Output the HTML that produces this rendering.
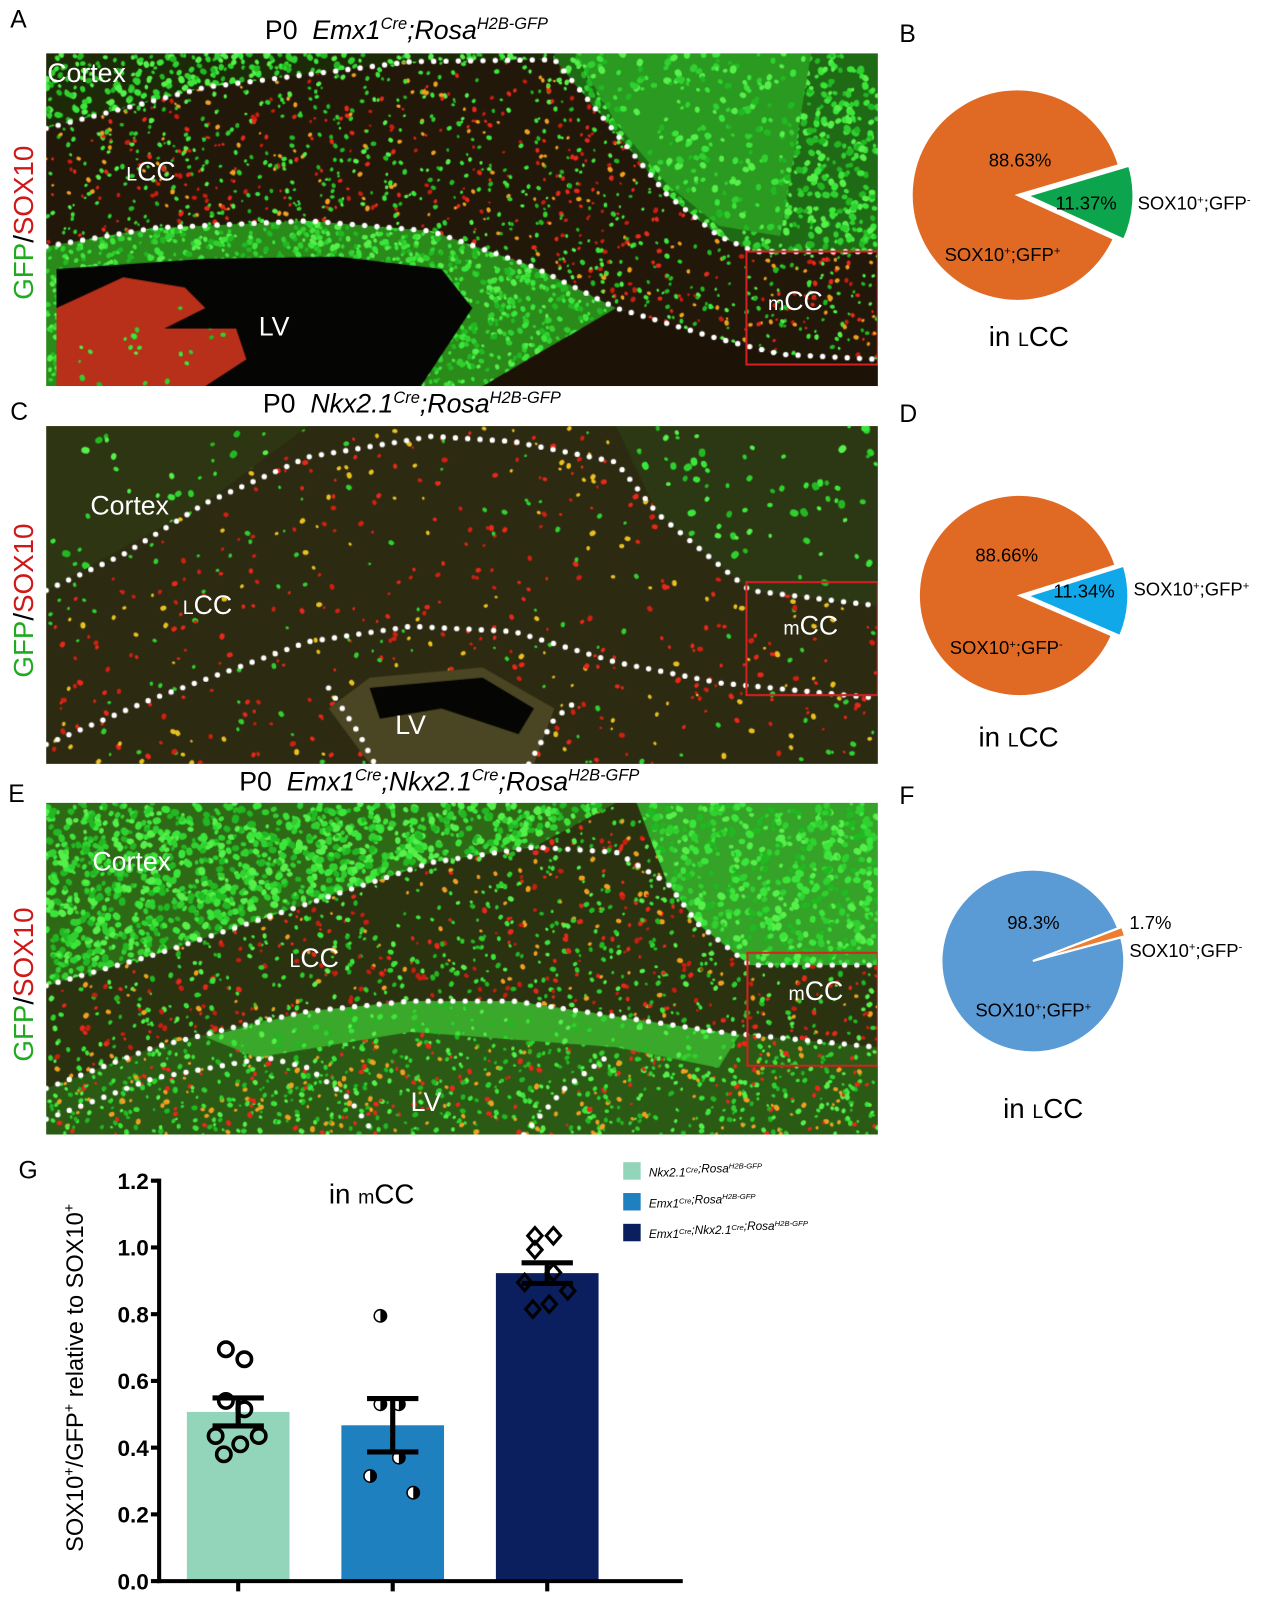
<!DOCTYPE html>
<html><head><meta charset="utf-8">
<style>
html,body{margin:0;padding:0;background:#fff;overflow:hidden;}
body{width:1269px;height:1610px;position:relative;font-family:"Liberation Sans",sans-serif;}
#wrap{position:absolute;left:0;top:0;width:1236px;height:1568px;transform:scale(1.0267);transform-origin:0 0;}
.abs{position:absolute;white-space:nowrap;}
.plab{font-size:24px;color:#000;}
.title{font-size:26px;color:#000;}
.title i{font-style:italic;}
.title sup{font-size:16px;}
.side{font-size:27px;transform:rotate(-90deg);transform-origin:0 0;}
.wl{color:#fff;font-size:26px;}
.wl small{font-size:19px;}
canvas{position:absolute;}
.inl{font-size:27px;color:#000;}
.inl small{font-size:19px;}
</style></head><body>
<div id="wrap">

<div class="abs plab" style="left:10px;top:6px">A</div>
<div class="abs plab" style="left:10px;top:388px">C</div>
<div class="abs plab" style="left:8px;top:760px">E</div>
<div class="abs plab" style="left:876px;top:20px">B</div>
<div class="abs plab" style="left:876px;top:390px">D</div>
<div class="abs plab" style="left:876px;top:762px">F</div>
<div class="abs plab" style="left:18px;top:1127px">G</div>

<div class="abs title" style="left:258px;top:14px">P0&nbsp; <i>Emx1<sup>Cre</sup>;Rosa<sup>H2B-GFP</sup></i></div>
<div class="abs title" style="left:256px;top:378px">P0&nbsp; <i>Nkx2.1<sup>Cre</sup>;Rosa<sup>H2B-GFP</sup></i></div>
<div class="abs title" style="left:233px;top:746px">P0&nbsp; <i>Emx1<sup>Cre</sup>;Nkx2.1<sup>Cre</sup>;Rosa<sup>H2B-GFP</sup></i></div>

<div class="abs side" style="left:8px;top:292px"><span style="color:#1faa1f">GFP</span>/<span style="color:#d01818">SOX10</span></div>
<div class="abs side" style="left:8px;top:660px"><span style="color:#1faa1f">GFP</span>/<span style="color:#d01818">SOX10</span></div>
<div class="abs side" style="left:8px;top:1034px"><span style="color:#1faa1f">GFP</span>/<span style="color:#d01818">SOX10</span></div>

<canvas id="cA" width="810" height="324" style="left:45px;top:52px"></canvas>
<canvas id="cC" width="810" height="329" style="left:45px;top:415px"></canvas>
<canvas id="cE" width="810" height="323" style="left:45px;top:782px"></canvas>

<div class="abs wl" style="left:46px;top:56px">Cortex</div>
<div class="abs wl" style="left:123px;top:152px"><small>L</small>CC</div>
<div class="abs wl" style="left:252px;top:303px">LV</div>
<div class="abs wl" style="left:748px;top:278px"><small>m</small>CC</div>
<div class="abs wl" style="left:88px;top:477px">Cortex</div>
<div class="abs wl" style="left:178px;top:574px"><small>L</small>CC</div>
<div class="abs wl" style="left:385px;top:691px">LV</div>
<div class="abs wl" style="left:763px;top:594px"><small>m</small>CC</div>
<div class="abs wl" style="left:90px;top:824px">Cortex</div>
<div class="abs wl" style="left:282px;top:918px"><small>L</small>CC</div>
<div class="abs wl" style="left:400px;top:1058px">LV</div>
<div class="abs wl" style="left:768px;top:950px"><small>m</small>CC</div>

<svg class="abs" style="left:0;top:0" width="1236" height="1568" id="pies"></svg>

<div class="abs inl" style="left:963px;top:313px">in <small>L</small>CC</div>
<div class="abs inl" style="left:953px;top:703px">in <small>L</small>CC</div>
<div class="abs inl" style="left:977px;top:1065px">in <small>L</small>CC</div>

<svg class="abs" style="left:0;top:1120px" width="900" height="448" id="bar"></svg>
</div>

<script>
// ---------- Bar chart data ----------
const groups = ['Nkx2.1Cre;RosaH2B-GFP','Emx1Cre;RosaH2B-GFP','Emx1Cre;Nkx2.1Cre;RosaH2B-GFP'];
const means = [0.507, 0.467, 0.923];
const sems = [0.042, 0.080, 0.031];
const pts1 = [0.695, 0.665, 0.54, 0.515, 0.435, 0.435, 0.41, 0.38];
const pts2 = [0.795, 0.53, 0.53, 0.37, 0.315, 0.265];
const pts3 = [1.035, 1.035, 0.993, 0.925, 0.895, 0.87, 0.83, 0.815];
const yTicks = [0.0, 0.2, 0.4, 0.6, 0.8, 1.0, 1.2];
const barColors = ['#92d5bb','#1f80bf','#0b1f5e'];

// ---------- Pie data ----------
const pieB = [88.63, 11.37];
const pieD = [88.66, 11.34];
const pieF = [98.3, 1.7];

const NS='http://www.w3.org/2000/svg';
function mk(parent,tag,attrs){const e=document.createElementNS(NS,tag);for(const k in attrs)e.setAttribute(k,attrs[k]);parent.appendChild(e);return e;}

// ----- bar chart -----
(function(){
  const svg=document.getElementById('bar');
  const x0=155, yBase=420, yTop=30;
  const y=v=>yBase-(v/1.2)*(yBase-yTop);
  const xc=i=>232+i*150.5;
  const bw=100;
  let t=mk(svg,'text',{x:362,y:52,'font-size':27,'font-family':'Liberation Sans, sans-serif','text-anchor':'middle'});
  
  
  t.innerHTML='in <tspan font-size="19">m</tspan>CC';
  means.forEach((m,i)=>{
    const r=mk(svg,'rect',{x:xc(i)-bw/2,y:y(m),width:bw,height:yBase-y(m),fill:barColors[i]});
    
    
  });
  const allPts=[pts1,pts2,pts3];
  const jit=[-12,6,-12,6,-22,20,2,-14];
  allPts.forEach((arr,g)=>{
    arr.forEach((v,k)=>{
      const dx=jit[k%jit.length];
      const cx=xc(g)+dx, cy=y(v);
      let el;
      if(g===0){el=mk(svg,'circle',{cx,cy,r:7,fill:'none',stroke:'#000','stroke-width':3.5});}
      else if(g===1){
        el=mk(svg,'g',{});
        mk(el,'circle',{cx,cy,r:6,fill:'#fff',stroke:'#000','stroke-width':1.5});
        mk(el,'path',{d:`M${cx},${cy-6} A6,6 0 0 1 ${cx},${cy+6} Z`,fill:'#000'});
      } else {
        el=mk(svg,'path',{d:`M${cx},${cy-8} L${cx+7},${cy} L${cx},${cy+8} L${cx-7},${cy} Z`,fill:'none',stroke:'#000','stroke-width':3});
      }
      
      
    });
  });
  means.forEach((m,i)=>{
    const g=mk(svg,'g',{stroke:'#000','stroke-width':5});
    
    
    mk(g,'line',{x1:xc(i),x2:xc(i),y1:y(m+sems[i]),y2:y(m-sems[i])});
    mk(g,'line',{x1:xc(i)-25,x2:xc(i)+25,y1:y(m+sems[i]),y2:y(m+sems[i])});
    mk(g,'line',{x1:xc(i)-25,x2:xc(i)+25,y1:y(m-sems[i]),y2:y(m-sems[i])});
  });
  const ax=mk(svg,'g',{stroke:'#000','stroke-width':4});
  
  
  mk(ax,'line',{x1:x0,x2:x0,y1:yTop-2,y2:yBase+2});
  mk(ax,'line',{x1:x0-2,x2:665,y1:yBase,y2:yBase});
  yTicks.forEach(v=>{
    mk(ax,'line',{x1:x0-8,x2:x0,y1:y(v),y2:y(v)});
    const tl=mk(svg,'text',{x:x0-10,y:y(v)+8,'font-size':22,'font-weight':'bold','font-family':'Liberation Sans, sans-serif','text-anchor':'end'});
    
    
    tl.textContent=v.toFixed(1);
  });
  means.forEach((m,i)=>{mk(ax,'line',{x1:xc(i),x2:xc(i),y1:yBase,y2:yBase+10});});
  const yt=mk(svg,'text',{transform:'translate(81,222) rotate(-90)','font-size':23,'font-family':'Liberation Sans, sans-serif','text-anchor':'middle'});
  
  
  yt.innerHTML='SOX10<tspan dy="-9" font-size="14">+</tspan><tspan dy="9">/GFP</tspan><tspan dy="-9" font-size="14">+</tspan><tspan dy="9"> relative to SOX10</tspan><tspan dy="-9" font-size="14">+</tspan>';
  const legTxt=[['Nkx2.1','Cre',';Rosa','H2B-GFP'],['Emx1','Cre',';Rosa','H2B-GFP'],['Emx1','Cre',';Nkx2.1','Cre',';Rosa','H2B-GFP']];
  groups.forEach((gname,i)=>{
    const lg=mk(svg,'g',{});
    
    
    mk(lg,'rect',{x:607,y:12+i*30,width:17,height:17,fill:barColors[i]});
    const tx=mk(lg,'text',{x:632,y:26+i*30,'font-size':11.5,'font-style':'italic','font-family':'Liberation Sans, sans-serif'});
    let h='';legTxt[i].forEach((p,j)=>{h+= (j%2)?`<tspan dy="-4" font-size="7.5">${p}</tspan><tspan dy="4"></tspan>`:p;});
    tx.innerHTML=h;
  });
})();

// ----- pies -----
(function(){
  const svg=document.getElementById('pies');
  function pie(cx,cy,r,vals,cols,startDeg,explode,name){
    const g=mk(svg,'g',{});
    
    
    const tot=vals.reduce((a,b)=>a+b,0);
    const smallA=vals[1]/tot*360;
    const a0=startDeg-smallA/2, a1=startDeg+smallA/2;
    const rad=d=>d*Math.PI/180;
    const arc=(ox,oy,s,e,col,nm)=>{
      const large=(e-s)>180?1:0;
      const p=mk(g,'path',{d:`M${ox},${oy} L${ox+r*Math.cos(rad(s))},${oy+r*Math.sin(rad(s))} A${r},${r} 0 ${large} 1 ${ox+r*Math.cos(rad(e))},${oy+r*Math.sin(rad(e))} Z`,fill:col,stroke:'#fff','stroke-width':2});
      
      
    };
    arc(cx,cy,a1,a0+360,cols[0],'slice-major');
    const ex=explode*Math.cos(rad(startDeg)), ey=explode*Math.sin(rad(startDeg));
    arc(cx+ex,cy+ey,a0,a1,cols[1],'slice-minor');
  }
  pie(991,190,103,pieB,['#e06a24','#0da44e'],4,10,'pie-b');
  pie(993,580,98,pieD,['#e06a24','#10a8e8'],3,8,'pie-d');
  pie(1006,936,89,pieF,['#5b9bd5','#ed7d31'],-18,4,'pie-f');
  const T=(x,y,s,txt,nm,fs)=>{const t=mk(svg,'text',{x,y,'font-size':fs||18,'font-family':'Liberation Sans, sans-serif'});t.innerHTML=txt;return t;};
  const sp='<tspan dy="-6" font-size="11">+</tspan><tspan dy="6">';
  const sm='<tspan dy="-6" font-size="11">-</tspan><tspan dy="6">';
  T(963,162,0,'88.63%','pie-b-major-pct');
  T(1028,204,0,'11.37%','pie-b-minor-pct');
  T(1108,204,0,'SOX10'+sp+';GFP</tspan>'+sm+'</tspan>','pie-b-minor-label');
  T(920,254,0,'SOX10'+sp+';GFP</tspan>'+sp+'</tspan>','pie-b-major-label');
  T(950,547,0,'88.66%','pie-d-major-pct');
  T(1026,582,0,'11.34%','pie-d-minor-pct');
  T(1104,580,0,'SOX10'+sp+';GFP</tspan>'+sp+'</tspan>','pie-d-minor-label');
  T(925,637,0,'SOX10'+sp+';GFP</tspan>'+sm+'</tspan>','pie-d-major-label');
  T(981,905,0,'98.3%','pie-f-major-pct');
  T(1100,905,0,'1.7%','pie-f-minor-pct');
  T(1100,932,0,'SOX10'+sp+';GFP</tspan>'+sm+'</tspan>','pie-f-minor-label');
  T(950,990,0,'SOX10'+sp+';GFP</tspan>'+sp+'</tspan>','pie-f-major-label');
})();

// ----- micrographs (texture) -----
function prng(seed){return function(){seed|=0;seed=seed+0x6D2B79F5|0;let t=Math.imul(seed^seed>>>15,1|seed);t=t+Math.imul(t^t>>>7,61|t)^t;return((t^t>>>14)>>>0)/4294967296;};}
function poly(ctx,pts){ctx.beginPath();ctx.moveTo(pts[0][0],pts[0][1]);for(let i=1;i<pts.length;i++)ctx.lineTo(pts[i][0],pts[i][1]);ctx.closePath();}
function region(ctx,pts,bg,n,cols,sz,rnd,w,h){
  ctx.save();poly(ctx,pts);ctx.clip();
  if(bg){ctx.fillStyle=bg;ctx.fillRect(0,0,w,h);}
  for(let i=0;i<n;i++){const x=rnd()*w,y=rnd()*h;ctx.fillStyle=cols[Math.floor(rnd()*cols.length)];const s=sz*(0.6+rnd()*0.7);ctx.beginPath();ctx.ellipse(x,y,s,s*0.8,rnd()*3,0,7);ctx.fill();}
  ctx.restore();
}
function dotted(ctx,pts,ox,oy){
  ctx.fillStyle='#fff';
  let carry=0;
  for(let i=0;i<pts.length-1;i++){
    const [x1,y1]=pts[i],[x2,y2]=pts[i+1];const L=Math.hypot(x2-x1,y2-y1);
    let d=carry;while(d<L){const t=d/L;ctx.beginPath();ctx.arc(x1+(x2-x1)*t-ox,y1+(y2-y1)*t-oy,2.6,0,7);ctx.fill();d+=12;}
    carry=d-L;
  }
}
function box(ctx,x1,y1,x2,y2,ox,oy){ctx.strokeStyle='#d42020';ctx.lineWidth=2;ctx.strokeRect(x1-ox,y1-oy,x2-x1,y2-y1);}
function shift(pts,ox,oy){return pts.map(p=>[p[0]-ox,p[1]-oy]);}
const G=['#3be63a','#2fd02f','#55f04a','#22b822'], R=['#e8281a','#c81e10','#f0a020'];

(function(){
  const c=document.getElementById('cA'),ctx=c.getContext('2d'),w=810,h=324,ox=45,oy=52,r=prng(11);
  ctx.fillStyle='#1c1206';ctx.fillRect(0,0,w,h);
  const top=[[45,125],[200,85],[400,60],[540,58],[600,130],[650,190],[700,230],[735,245],[855,245]];
  const low=[[45,240],[150,222],[300,215],[420,225],[520,260],[600,300],[700,330],[760,345],[855,350]];
  region(ctx,shift([[45,52],...top,[855,52]],ox,oy),'#1d2a08',5000,G,3,r,w,h);
  region(ctx,shift([[540,52],[540,58],[600,130],[650,190],[700,230],[735,245],[855,245],[855,52]],ox,oy),'#1f6a14',4500,G,3.2,r,w,h);
  region(ctx,shift([[560,52],[600,120],[650,180],[700,220],[760,230],[790,52]],ox,oy),'#2a9a20',2000,G,3.2,r,w,h);
  region(ctx,shift([...top,...low.slice().reverse()],ox,oy),'#22180a',2500,G.concat(R),2.2,r,w,h);
  region(ctx,shift([[45,240],[150,222],[300,215],[420,225],[520,260],[600,300],[470,376],[45,376]],ox,oy),'#2a8a1a',6000,G,2.8,r,w,h);
  region(ctx,shift([[55,262],[200,252],[330,250],[430,262],[460,300],[410,376],[55,376]],ox,oy),'#050503',0,G,2,r,w,h);
  region(ctx,shift([[55,300],[120,270],[180,280],[200,300],[160,320],[230,320],[240,350],[200,376],[55,376]],ox,oy),'#b8301a',350,G,2.5,r,w,h);
  dotted(ctx,top,ox,oy);dotted(ctx,low,ox,oy);
  box(ctx,727,245,855,355,ox,oy);
})();
(function(){
  const c=document.getElementById('cC'),ctx=c.getContext('2d'),w=810,h=329,ox=45,oy=415,r=prng(23);
  ctx.fillStyle='#2d2a12';ctx.fillRect(0,0,w,h);
  region(ctx,[[0,0],[w,0],[w,h],[0,h]],null,700,['#e8281a','#d02010','#2fd02f','#e8c020'],2.4,r,w,h);
  region(ctx,shift([[45,415],[300,415],[200,490],[45,575]],ox,oy),'#2d3512',450,G,3.2,r,w,h);
  region(ctx,shift([[600,415],[855,415],[855,590],[730,575],[700,550],[640,500]],ox,oy),'#2c3814',550,G,3.4,r,w,h);
  region(ctx,shift([[320,690],[360,660],[470,650],[540,690],[520,744],[360,744]],ox,oy),'#4a4522',0,G,2,r,w,h);
  region(ctx,shift([[360,670],[470,660],[520,690],[505,715],[430,690],[370,700]],ox,oy),'#050503',0,G,2,r,w,h);
  dotted(ctx,[[45,575],[120,540],[200,490],[300,445],[420,425],[500,430],[600,450],[640,500],[700,550],[730,575],[855,590]],ox,oy);
  dotted(ctx,[[45,725],[150,680],[300,625],[400,610],[500,615],[600,645],[700,665],[855,680]],ox,oy);
  dotted(ctx,[[320,670],[350,715],[365,744]],ox,oy);dotted(ctx,[[515,744],[540,700],[565,680]],ox,oy);
  box(ctx,727,567,855,677,ox,oy);
})();
(function(){
  const c=document.getElementById('cE'),ctx=c.getContext('2d'),w=810,h=323,ox=45,oy=782,r=prng(37);
  ctx.fillStyle='#2a3210';ctx.fillRect(0,0,w,h);
  const top=[[45,960],[150,930],[300,880],[420,840],[520,825],[600,830],[650,860],[680,900],[730,940],[855,940]];
  const low=[[45,1060],[150,1020],[230,1000],[300,985],[400,975],[500,975],[600,990],[700,1005],[855,1020]];
  region(ctx,[[0,0],[w,0],[w,h],[0,h]],null,2200,G.concat(R),2.4,r,w,h);
  region(ctx,shift([[45,782],[600,782],[520,825],[420,840],[300,880],[150,930],[45,960]],ox,oy),'#2e6a16',6000,G,3.4,r,w,h);
  region(ctx,shift([[620,782],[855,782],[855,940],[730,940],[680,900],[650,860]],ox,oy),'#35a228',4500,G,3.4,r,w,h);
  region(ctx,shift([...low,[855,1105],[45,1105]],ox,oy),'#2a5a14',3500,G.concat(['#e8281a','#f0a020']),2.4,r,w,h);
  region(ctx,shift([[200,1010],[300,985],[400,975],[500,975],[600,990],[720,1008],[700,1040],[600,1020],[400,1005],[250,1030]],ox,oy),'#3aa82a',2000,G,2.6,r,w,h);
  dotted(ctx,top,ox,oy);dotted(ctx,low,ox,oy);
  dotted(ctx,[[45,1090],[150,1050],[260,1030],[300,1040],[340,1070],[365,1105]],ox,oy);
  dotted(ctx,[[510,1105],[550,1060],[590,1030]],ox,oy);
  box(ctx,728,928,855,1038,ox,oy);
})();
</script>
</body></html>
